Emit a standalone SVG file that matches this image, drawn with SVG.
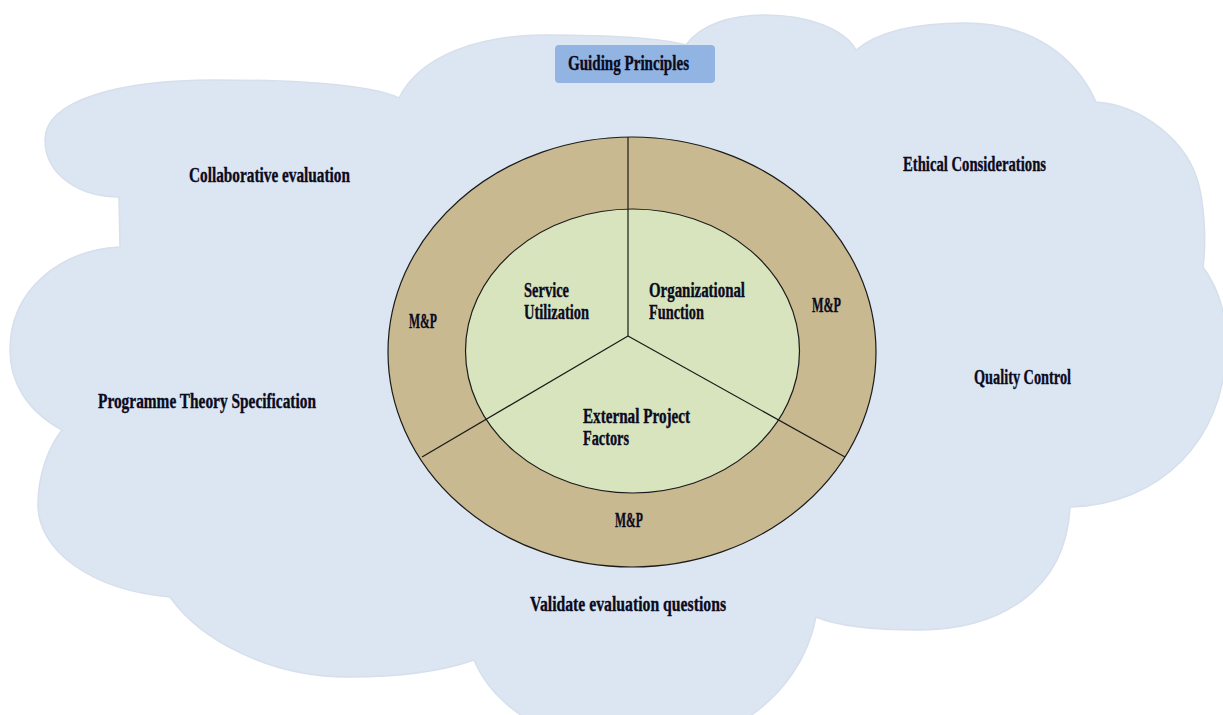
<svg xmlns="http://www.w3.org/2000/svg" width="1223" height="715" viewBox="0 0 1223 715">
<style>
.lbl{font-family:"Liberation Serif","DejaVu Serif",serif;font-weight:bold;font-size:20px;fill:#0b0b1e;stroke:#0b0b1e;stroke-width:0.35;}
.ring{stroke:#1a1a1a;stroke-width:1.2;}
.spoke{stroke:#1a1a1a;stroke-width:1.2;fill:none;}
</style>
<rect x="0" y="0" width="1223" height="715" fill="#ffffff"/>
<g id="cloud">
<path d="M119,197 C80,197 45,175 45,140 C45,100 120,80 215,80 C300,80 370,85 399,98 C420,55 480,35 545,35 C610,35 660,38 686,45 C700,25 730,15 765,15 C810,15 845,30 856,50 C880,30 920,23 965,23 C1030,23 1075,55 1096,102 C1140,105 1190,140 1200,190 C1205,215 1206,245 1203,267 C1220,290 1228,320 1226,350 C1224,440 1160,505 1070,507 C1066,590 1000,630 919,630 C870,630 835,625 816,617 C800,700 720,750 640,750 C560,750 495,710 474,660 C440,672 395,677 348,677 C270,677 200,640 170,597 C90,590 38,550 38,505 C38,475 48,448 62,430 C25,410 10,380 10,350 C10,290 60,250 120,247 Z" fill="#dce6f2" stroke="#d6dfeb" stroke-width="1.5"/>
</g>
<g id="guiding-principles">
<rect x="555" y="45" width="160" height="38" rx="4" fill="#92b4e2"/>
<text class="lbl" x="568" y="70" textLength="121" lengthAdjust="spacingAndGlyphs">Guiding Principles</text>
</g>
<g id="ring">
<ellipse class="ring" cx="632" cy="352" rx="244" ry="215" fill="#c9b991"/>
<ellipse class="ring" cx="632.5" cy="351" rx="167" ry="142" fill="#d8e4bd"/>
</g>
<g id="connectors">
<line class="spoke" x1="628" y1="336" x2="628" y2="137"/>
<line class="spoke" x1="628" y1="336" x2="422" y2="457"/>
<line class="spoke" x1="628" y1="336" x2="845" y2="457"/>
</g>
<g id="service-utilization">
<text class="lbl" x="524" y="297" textLength="45" lengthAdjust="spacingAndGlyphs">Service</text>
<text class="lbl" x="524" y="319" textLength="65" lengthAdjust="spacingAndGlyphs">Utilization</text>
</g>
<g id="organizational-function">
<text class="lbl" x="649" y="297" textLength="96" lengthAdjust="spacingAndGlyphs">Organizational</text>
<text class="lbl" x="649" y="319" textLength="55" lengthAdjust="spacingAndGlyphs">Function</text>
</g>
<g id="external-project-factors">
<text class="lbl" x="583" y="423" textLength="107" lengthAdjust="spacingAndGlyphs">External Project</text>
<text class="lbl" x="583" y="445" textLength="46" lengthAdjust="spacingAndGlyphs">Factors</text>
</g>
<g id="mp-left"><text class="lbl" x="409" y="328" textLength="28" lengthAdjust="spacingAndGlyphs">M&amp;P</text></g>
<g id="mp-right"><text class="lbl" x="812" y="312" textLength="29" lengthAdjust="spacingAndGlyphs">M&amp;P</text></g>
<g id="mp-bottom"><text class="lbl" x="615" y="527" textLength="28" lengthAdjust="spacingAndGlyphs">M&amp;P</text></g>
<g id="collaborative-evaluation"><text class="lbl" x="189" y="182" textLength="161" lengthAdjust="spacingAndGlyphs">Collaborative evaluation</text></g>
<g id="ethical-considerations"><text class="lbl" x="903" y="171" textLength="143" lengthAdjust="spacingAndGlyphs">Ethical Considerations</text></g>
<g id="quality-control"><text class="lbl" x="974" y="384" textLength="97" lengthAdjust="spacingAndGlyphs">Quality Control</text></g>
<g id="programme-theory"><text class="lbl" x="98" y="408" textLength="218" lengthAdjust="spacingAndGlyphs">Programme Theory Specification</text></g>
<g id="validate-questions"><text class="lbl" x="530" y="611" textLength="196" lengthAdjust="spacingAndGlyphs">Validate evaluation questions</text></g>
</svg>
